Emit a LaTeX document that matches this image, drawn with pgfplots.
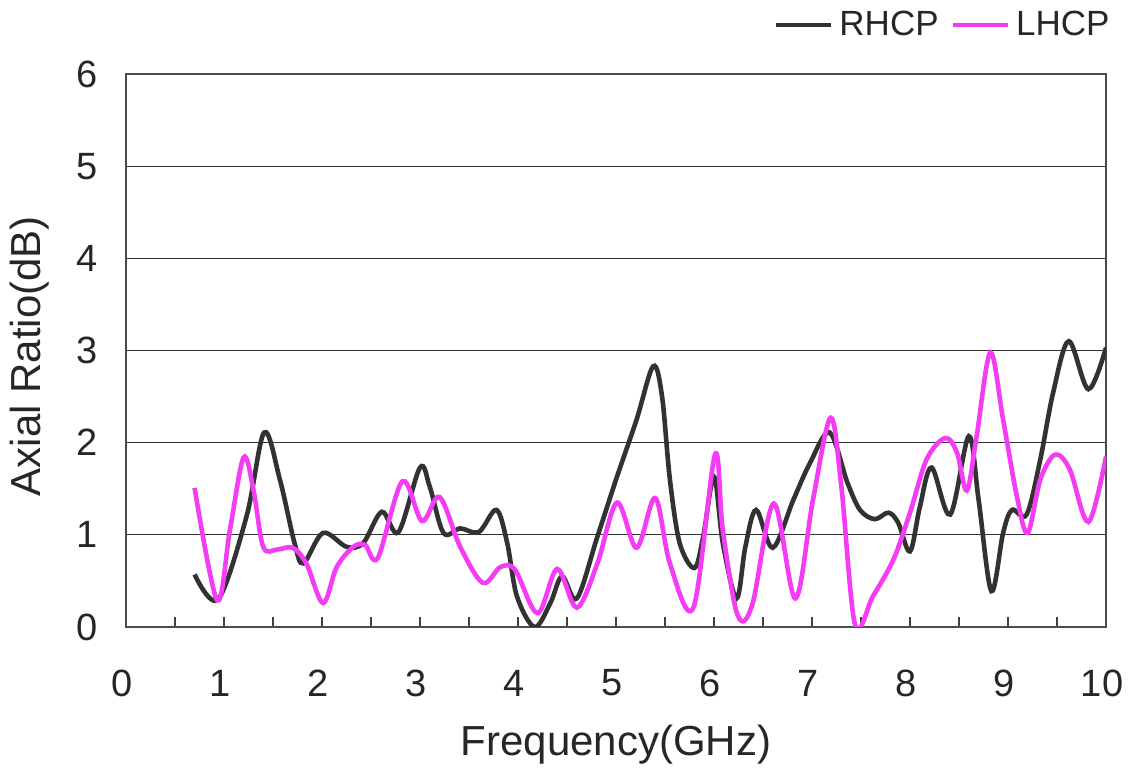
\documentclass[border=0pt]{standalone}
\usepackage{fontspec}
\setmainfont{Liberation Sans}
\usepackage{pgfplots}
\pgfplotsset{compat=1.18}
\definecolor{rh}{RGB}{50,50,50}
\definecolor{lh}{RGB}{245,60,245}
\begin{document}
\begin{tikzpicture}
\path[use as bounding box] (-63pt,-71pt) rectangle (501.5pt,313.5pt);
\begin{axis}[
  scale only axis, width=490pt, height=276.5pt,
  at={(0,0)}, anchor=south west,
  xmin=0, xmax=10, ymin=0, ymax=6,
  xtick={0,...,10}, minor xtick={0.5,1.5,...,9.5},
  ytick={0,...,6},
  ymajorgrids,
  grid style={line width=0.6pt, color=black!80},
  major tick length=5pt, minor tick length=5pt,
  xtick pos=bottom, xtick align=inside,
  ytick style={draw=none},
  tick style={line width=0.6pt, color=black!75},
  axis line style={line width=1pt, color=black!70},
  /pgf/number format/assume math mode=true,
  ticklabel style={font=\fontsize{19}{22}\selectfont, text=black!85},
  xticklabel style={anchor=center, yshift=-28pt, xshift=-2pt},
  yticklabel style={anchor=east, inner sep=0pt, xshift=-14pt},
  xlabel={Frequency(GHz)},
  ylabel={Axial Ratio(dB)},
  label style={font=\fontsize{21}{25}\selectfont, text=black!85},
  xlabel style={at={(axis description cs:0.5,0)}, anchor=center, yshift=-59pt},
  ylabel style={at={(axis description cs:-0.098,0.49)}, anchor=center},
  legend columns=-1,
  legend image code/.code={\draw[#1] (0pt,0pt) -- (27.5pt,0pt);},
  legend style={at={(axis description cs:1,1)}, anchor=east, xshift=2pt, yshift=24.5pt,
    draw=none, fill=none, inner sep=0pt,
    font=\fontsize{17.5}{20}\selectfont, text=black!85,
    nodes={inner sep=0pt},
    /tikz/every odd column/.append style={column sep=3pt},
    /tikz/every even column/.append style={column sep=6pt}},
]
\addplot[rh, line width=2.3pt, smooth, tension=0.55] coordinates {
(0.70,0.57) (0.94,0.30) (1.23,1.20) (1.41,2.11) (1.57,1.60) (1.72,0.91)
(1.81,0.69) (2.01,1.02) (2.25,0.87) (2.42,0.91) (2.61,1.25) (2.78,1.03)
(3.00,1.73) (3.10,1.52) (3.24,1.02) (3.41,1.07) (3.60,1.03) (3.78,1.27)
(3.89,0.91) (3.99,0.33) (4.17,0.00) (4.33,0.26) (4.45,0.55) (4.60,0.31)
(4.81,0.98) (5.01,1.63) (5.21,2.25) (5.38,2.83) (5.47,2.50) (5.55,1.60)
(5.65,0.91) (5.80,0.64) (5.89,0.98) (6.00,1.63) (6.09,0.91) (6.23,0.31)
(6.32,0.87) (6.43,1.27) (6.60,0.86) (6.81,1.38) (6.98,1.78) (7.18,2.11)
(7.36,1.57) (7.49,1.27) (7.64,1.17) (7.78,1.24) (7.88,1.13) (8.00,0.82)
(8.10,1.30) (8.22,1.73) (8.41,1.22) (8.60,2.07) (8.70,1.38) (8.83,0.39)
(8.95,1.02) (9.04,1.27) (9.19,1.22) (9.33,1.82) (9.46,2.54) (9.62,3.10)
(9.82,2.58) (10.00,3.03)
};
\addlegendentry{RHCP}
\addplot[lh, line width=2.3pt, smooth, tension=0.55] coordinates {
(0.70,1.51) (0.93,0.29) (1.06,1.05) (1.20,1.84) (1.30,1.49) (1.40,0.87)
(1.54,0.84) (1.70,0.86) (1.84,0.69) (2.01,0.26) (2.15,0.65) (2.32,0.87)
(2.44,0.89) (2.57,0.75) (2.82,1.58) (3.02,1.15) (3.20,1.41) (3.41,0.87)
(3.64,0.48) (3.82,0.65) (3.97,0.62) (4.20,0.15) (4.40,0.63) (4.60,0.21)
(4.81,0.69) (5.01,1.35) (5.21,0.86) (5.40,1.40) (5.55,0.69) (5.79,0.21)
(6.01,1.87) (6.09,1.05) (6.24,0.13) (6.39,0.24) (6.61,1.34) (6.83,0.31)
(7.01,1.38) (7.19,2.27) (7.30,1.52) (7.44,0.02) (7.62,0.33) (7.83,0.73)
(8.00,1.24) (8.17,1.82) (8.36,2.05) (8.48,1.89) (8.58,1.48) (8.68,2.07)
(8.82,2.98) (8.95,2.25) (9.09,1.42) (9.20,1.02) (9.33,1.60) (9.48,1.87)
(9.63,1.71) (9.82,1.14) (10.00,1.85)
};
\addlegendentry{LHCP}
\end{axis}
\end{tikzpicture}
\end{document}
